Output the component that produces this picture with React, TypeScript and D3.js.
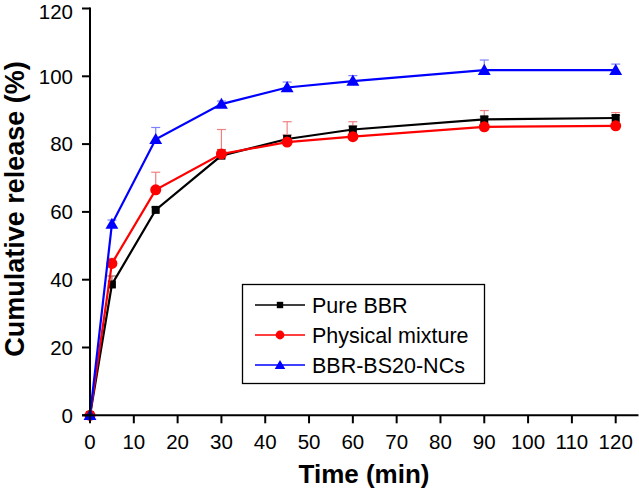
import React from "react";
import * as d3 from "d3";

const times = [0, 5, 15, 30, 45, 60, 90, 120];
const pureBBR = [0, 38.6, 60.6, 76.6, 81.5, 84.3, 87.3, 87.7];
const pureBBRErr = [0, 2.5, 0.8, 1.8, 1.2, 1.0, 0.8, 0.8];
const physMix = [0, 44.8, 66.5, 77.1, 80.6, 82.2, 85.1, 85.4];
const physMixErr = [0, 1.5, 5.2, 7.2, 6.0, 4.4, 4.8, 3.9];
const bbrNC = [0, 56.4, 81.4, 91.8, 96.7, 98.6, 101.8, 101.8];
const bbrNCErr = [0, 1.2, 3.5, 0.9, 1.6, 1.6, 3.0, 1.8];
const yTicks = [0, 20, 40, 60, 80, 100, 120];
const xTicks = [0, 10, 20, 30, 40, 50, 60, 70, 80, 90, 100, 110, 120];
const seriesNames = ["Pure BBR", "Physical mixture", "BBR-BS20-NCs"];

const W = 639;
const H = 493;
const FONT = "'Liberation Sans', Arial, Helvetica, sans-serif";

export default function App() {
  const x = d3.scaleLinear().domain([0, 120]).range([90, 615.7]);
  const y = d3.scaleLinear().domain([0, 120]).range([415.3, 8.5]);
  const xEnd = x(125.2);

  const series = [
    { name: seriesNames[0], vals: pureBBR, err: pureBBRErr, color: "#000000", errColor: "#9a6060", marker: "square" },
    { name: seriesNames[1], vals: physMix, err: physMixErr, color: "#ff0000", errColor: "#f08080", marker: "circle" },
    { name: seriesNames[2], vals: bbrNC, err: bbrNCErr, color: "#0000ff", errColor: "#7f7fff", marker: "triangle" },
  ];

  const line = d3
    .line<number>()
    .x((_, i) => x(times[i]))
    .y((d) => y(d));

  const triBig = d3.symbol().type(d3.symbolTriangle).size(72)() || "";
  const triSmall = d3.symbol().type(d3.symbolTriangle).size(48)() || "";

  const drawMarker = (kind: string, cx: number, cy: number, color: string, key: string | number, small = false) => {
    const s = small ? 0.8 : 1;
    if (kind === "square")
      return <rect key={key} x={cx - 4 * s} y={cy - 4 * s} width={8 * s} height={8 * s} fill={color} />;
    if (kind === "circle") return <circle key={key} cx={cx} cy={cy} r={5.5 * s} fill={color} />;
    return <path key={key} d={small ? triSmall : triBig} transform={`translate(${cx},${cy + 1})`} fill={color} />;
  };

  return (
    <svg width={W} height={H} style={{ position: "absolute", left: 0, top: 0, background: "#fff" }} fontFamily={FONT}>
      {/* error bars */}
      {series.map((s, si) => (
        <g key={"e" + si} stroke={s.errColor} strokeWidth={1.2}>
          {s.vals.map((v, i) =>
            s.err[i] > 0 ? (
              <g key={i}>
                <line x1={x(times[i])} x2={x(times[i])} y1={y(v)} y2={y(v + s.err[i])} />
                <line x1={x(times[i]) - 4.5} x2={x(times[i]) + 4.5} y1={y(v + s.err[i])} y2={y(v + s.err[i])} />
              </g>
            ) : null
          )}
        </g>
      ))}
      {/* lines and markers */}
      {series.map((s, si) => (
        <g key={"s" + si}>
          <path d={line(s.vals) || ""} fill="none" stroke={s.color} strokeWidth={2.2} />
          {s.vals.map((v, i) => drawMarker(s.marker, x(times[i]), y(v), s.color, i))}
        </g>
      ))}
      {/* axes */}
      <g stroke="#000" strokeWidth={2}>
        <line x1={x(0)} x2={x(0)} y1={y(0)} y2={y(120) - 1} />
        <line x1={x(0) - 8} x2={xEnd} y1={y(0)} y2={y(0)} />
        {yTicks.map((t) => (
          <line key={"yt" + t} x1={x(0) - 8} x2={x(0)} y1={y(t)} y2={y(t)} />
        ))}
        {xTicks.map((t) => (
          <line key={"xt" + t} x1={x(t)} x2={x(t)} y1={y(0)} y2={y(0) + 8} />
        ))}
      </g>
      {yTicks.map((t) => (
        <text key={"yl" + t} x={73} y={Math.max(y(t), 11.5)} dy="0.36em" textAnchor="end" fontSize={20.5} fill="#000">
          {t}
        </text>
      ))}
      {xTicks.map((t) => (
        <text key={"xl" + t} x={x(t)} y={449} textAnchor="middle" fontSize={20.5} fill="#000">
          {t}
        </text>
      ))}
      <text x={364} y={483} textAnchor="middle" fontSize={26} fontWeight="bold" fill="#000">
        Time (min)
      </text>
      <text
        transform={`translate(24,209) rotate(-90)`}
        textAnchor="middle"
        fontSize={27}
        fontWeight="bold"
        fill="#000"
      >
        Cumulative release (%)
      </text>
      {/* legend */}
      <rect x={242.5} y={284.5} width={242} height={99} fill="#fff" stroke="#000" strokeWidth={1.3} />
      {series.map((s, si) => {
        const ly = 305 + si * 30;
        return (
          <g key={"l" + si}>
            <line x1={255} x2={305} y1={ly} y2={ly} stroke={s.color} strokeWidth={1.6} />
            {drawMarker(s.marker, 280, ly, s.color, "m", true)}
            <text x={312} y={ly} dy="0.35em" fontSize={21.5} fill="#000">
              {s.name}
            </text>
          </g>
        );
      })}
    </svg>
  );
}
